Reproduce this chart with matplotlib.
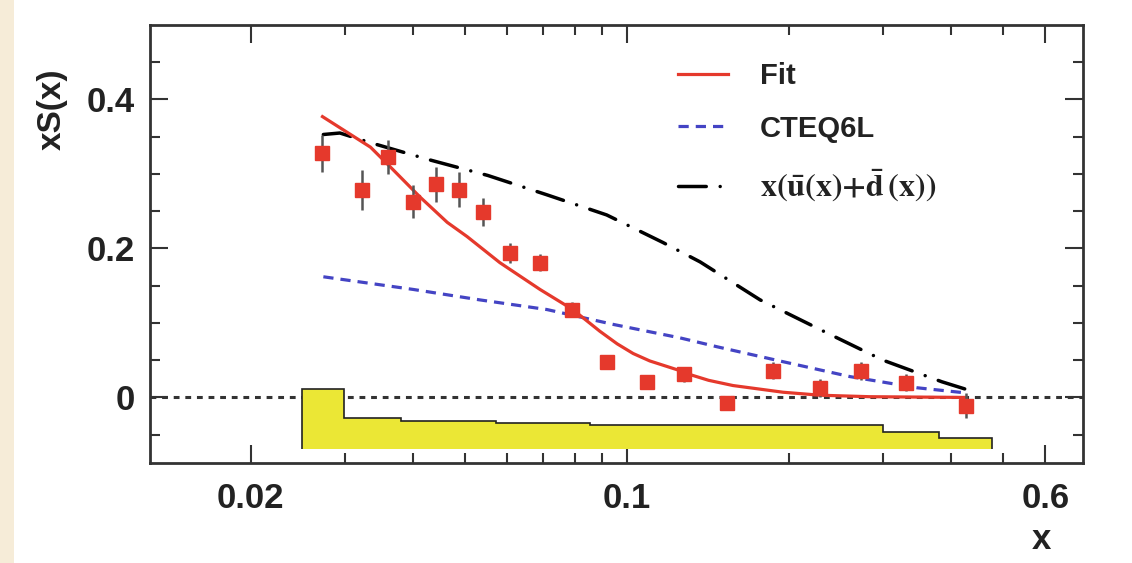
import numpy as np
import matplotlib
matplotlib.use('Agg')
import matplotlib.pyplot as plt
from matplotlib.ticker import FixedLocator, NullFormatter, FixedFormatter
from matplotlib.patches import Rectangle

# data
x_data = [0.0272, 0.0322, 0.0360, 0.0401, 0.0442, 0.0488, 0.0540, 0.0607, 0.0690, 0.0791,
          0.0918, 0.109, 0.128, 0.1536, 0.187, 0.2286, 0.2727, 0.330, 0.427]
y_data = [0.328, 0.279, 0.323, 0.263, 0.286, 0.279, 0.249, 0.194, 0.181, 0.118,
          0.048, 0.021, 0.031, -0.008, 0.036, 0.013, 0.035, 0.020, -0.011]
y_err = [0.025, 0.027, 0.023, 0.022, 0.023, 0.023, 0.019, 0.014, 0.011, 0.010,
         0.009, 0.009, 0.010, 0.009, 0.011, 0.012, 0.012, 0.012, 0.017]

x_fit = [0.0272, 0.0334, 0.0363, 0.0413, 0.0464, 0.0505, 0.0581, 0.069, 0.0794, 0.0891,
         0.0960, 0.1028, 0.1104, 0.1256, 0.1294, 0.1420, 0.1576, 0.1953, 0.2288, 0.283, 0.427]
y_fit = [0.377, 0.336, 0.310, 0.269, 0.235, 0.216, 0.181, 0.145, 0.118, 0.089,
         0.072, 0.059, 0.049, 0.036, 0.032, 0.023, 0.016, 0.007, 0.003, 0.001, 0.0]

x_cteq = [0.0273, 0.0401, 0.0533, 0.0711, 0.0945, 0.1256, 0.1473, 0.1953, 0.260, 0.3465, 0.428]
y_cteq = [0.162, 0.145, 0.131, 0.118, 0.098, 0.080, 0.068, 0.048, 0.028, 0.013, 0.006]

x_sea = [0.0273, 0.0293, 0.0334, 0.0430, 0.0552, 0.0711, 0.0918, 0.1168, 0.1369, 0.177,
         0.2366, 0.2996, 0.3855, 0.427]
y_sea = [0.353, 0.355, 0.342, 0.319, 0.298, 0.272, 0.245, 0.208, 0.182, 0.131,
         0.086, 0.050, 0.021, 0.011]

band_edges = [0.0249, 0.0298, 0.0381, 0.0571, 0.0855, 0.2996, 0.3806, 0.4775]
band_tops = [0.012, -0.0275, -0.031, -0.034, -0.037, -0.046, -0.055]
band_bottom = -0.069

red = '#e5392c'
blue = '#4444c4'

plt.rcParams['font.family'] = ['Liberation Sans', 'DejaVu Sans']
plt.rcParams['font.weight'] = 'bold'
plt.rcParams['mathtext.fontset'] = 'stix'

fig = plt.figure(figsize=(11.32, 5.63), dpi=100)
fig.patches.append(Rectangle((0, 0), 14 / 1132, 1, transform=fig.transFigure,
                             facecolor='#f6ecd8', edgecolor='none', zorder=-10))
ax = fig.add_axes([150 / 1132, 100 / 563, 933 / 1132, 438 / 563])

ax.axhline(0, color='#333333', lw=2.2, ls=(0, (1.9, 1.9)), zorder=1)
ax.stairs(band_tops, band_edges, baseline=band_bottom, fill=True,
          facecolor='#ebe735', edgecolor='#222222', lw=1.2, zorder=2)

ax.plot(x_cteq, y_cteq, color=blue, lw=2.3, ls=(0, (3.2, 2.2)), zorder=3, label='CTEQ6L')
ax.plot(x_sea, y_sea, color='black', lw=2.5, ls=(0, (8, 4, 0.01, 4)), zorder=3,
        dash_capstyle='round',
        label=r'$\mathbf{x(\bar{u}(x){+}\bar{d}\,(x))}$')
ax.plot(x_fit, y_fit, color=red, lw=2.3, zorder=4, label='Fit')
ax.errorbar(x_data, y_data, yerr=y_err, fmt='s', ms=10, color=red, mec=red,
            ecolor='#555555', elinewidth=1.8, capsize=0, zorder=5)

ax.set_xscale('log')
ax.set_xlim(0.013, 0.705)
ax.set_ylim(-0.088, 0.5)

ax.xaxis.set_major_locator(FixedLocator([0.02, 0.1, 0.6]))
ax.xaxis.set_major_formatter(FixedFormatter(['0.02', '0.1', '0.6']))
ax.xaxis.set_minor_locator(FixedLocator([0.03, 0.04, 0.05, 0.06, 0.07, 0.08, 0.09,
                                         0.2, 0.3, 0.4, 0.5]))
ax.xaxis.set_minor_formatter(NullFormatter())
ax.yaxis.set_major_locator(FixedLocator([0, 0.2, 0.4]))
ax.yaxis.set_major_formatter(FixedFormatter(['0', '0.2', '0.4']))
ax.yaxis.set_minor_locator(FixedLocator([-0.05, 0.05, 0.1, 0.15, 0.25, 0.3, 0.35, 0.45]))

ax.tick_params(which='both', direction='in', top=True, right=True, color='#333333',
               width=1.5, labelsize=25)
ax.tick_params(which='major', length=13)
ax.tick_params(which='minor', length=7)
ax.tick_params(axis='x', which='major', pad=14)
ax.tick_params(axis='y', which='major', pad=11)
for lbl in ax.get_xticklabels() + ax.get_yticklabels():
    lbl.set_fontweight('bold')
    lbl.set_color('#222222')
for s in ax.spines.values():
    s.set_linewidth(2)
    s.set_color('#333333')

ax.text(-0.105, 0.808, 'xS(x)', transform=ax.transAxes, rotation=90, fontsize=24,
        fontweight='bold', color='#222222', ha='center', va='center')
ax.text(0.955, -0.175, 'x', transform=ax.transAxes, fontsize=25,
        fontweight='bold', color='#222222', ha='center', va='center')

handles, labels = ax.get_legend_handles_labels()
order = [2, 0, 1]
leg = ax.legend([handles[i] for i in order], [labels[i] for i in order],
                loc='upper left', bbox_to_anchor=(0.566, 0.916), frameon=False,
                fontsize=21, handlelength=1.7, handletextpad=1.1, labelspacing=0.85,
                borderpad=0, borderaxespad=0)
for t in leg.get_texts():
    t.set_fontweight('bold')
    t.set_color('#222222')
leg.get_texts()[2].set_fontsize(23)

fig.savefig('out.png', dpi=100, facecolor='white')
